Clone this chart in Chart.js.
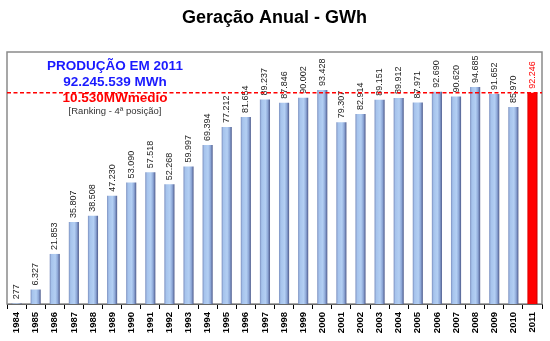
<!DOCTYPE html>
<html>
<head>
<meta charset="utf-8">
<script src="https://cdn.jsdelivr.net/npm/chart.js@4.4.1/dist/chart.umd.min.js"></script>
<style>
  html, body { margin: 0; padding: 0; background: #ffffff; }
  #wrap { width: 550px; height: 341px; position: relative; }
</style>
</head>
<body>
<div id="wrap"><canvas id="chart"></canvas></div>
<script>
// Annual generation, GWh
const years = ['1984','1985','1986','1987','1988','1989','1990','1991','1992','1993',
  '1994','1995','1996','1997','1998','1999','2000','2001','2002','2003',
  '2004','2005','2006','2007','2008','2009','2010','2011'];
const generationGWh = [277, 6327, 21853, 35807, 38508, 47230, 53090, 57518, 52268, 59997,
  69394, 77212, 81654, 89237, 87846, 90002, 93428, 79307, 82914, 89151,
  89912, 87971, 92690, 90620, 94685, 91652, 85970, 92246];
const highlightYear = '2011';
const referenceLevel = 92246;   // 2011 production, drawn as the dashed red line
const noteLines = ['PRODUÇÃO EM 2011', '92.245.539 MWh', '10.530MWmedio', '[Ranking - 4ª posição]'];

const FONT = '"Liberation Sans", Arial, sans-serif';

function fmt(v) {
  return String(v).replace(/\B(?=(\d{3})+(?!\d))/g, '.');
}

const BAR_PCT = 0.53;

function barFill(context) {
  const chart = context.chart;
  const xs = chart.scales.x;
  const isHi = years[context.dataIndex] === highlightYear;
  if (!xs || !chart.chartArea) return isHi ? '#ff0000' : '#a9c6ee';
  const cx = xs.getPixelForValue(context.dataIndex);
  const w = (xs.width / years.length) * BAR_PCT;
  const g = chart.ctx.createLinearGradient(cx - w / 2, 0, cx + w / 2, 0);
  if (isHi) {
    g.addColorStop(0, '#e00000');
    g.addColorStop(0.2, '#ff0000');
    g.addColorStop(0.8, '#ff0000');
    g.addColorStop(1, '#c80000');
  } else {
    g.addColorStop(0, '#7c90c0');
    g.addColorStop(0.18, '#a6c3ec');
    g.addColorStop(0.55, '#b3cff3');
    g.addColorStop(0.78, '#8ea8d8');
    g.addColorStop(1, '#4e5b8c');
  }
  return g;
}

// Frame around the plot, dashed reference line, value labels and the note block
const decorations = {
  id: 'decorations',
  beforeDatasetsDraw(chart) {
    const { ctx, chartArea: a } = chart;
    ctx.save();
    ctx.strokeStyle = '#8a8a8a';
    ctx.lineWidth = 1.5;
    ctx.strokeRect(a.left, a.top, a.right - a.left, a.bottom - a.top);
    ctx.restore();
  },
  afterDatasetsDraw(chart) {
    const { ctx, chartArea: a } = chart;
    const ys = chart.scales.y;
    const meta = chart.getDatasetMeta(0);

    // value labels, rotated, above each bar
    ctx.save();
    ctx.font = '9px ' + FONT;
    ctx.textBaseline = 'middle';
    ctx.textAlign = 'left';
    meta.data.forEach((bar, i) => {
      ctx.save();
      ctx.translate(bar.x, bar.y - 4);
      ctx.rotate(-Math.PI / 2);
      ctx.fillStyle = years[i] === highlightYear ? '#ff0000' : '#222222';
      ctx.fillText(fmt(generationGWh[i]), 0, 0);
      ctx.restore();
    });
    ctx.restore();

    // dashed reference line
    const yRef = ys.getPixelForValue(referenceLevel);
    ctx.save();
    ctx.strokeStyle = '#ff0000';
    ctx.lineWidth = 1.5;
    ctx.setLineDash([4, 2.5]);
    ctx.beginPath();
    ctx.moveTo(a.left, yRef);
    ctx.lineTo(a.right, yRef);
    ctx.stroke();
    ctx.restore();

    // note block
    const cx = a.left + 108;
    ctx.save();
    ctx.textAlign = 'center';
    ctx.textBaseline = 'middle';
    ctx.fillStyle = '#1a1aff';
    ctx.font = 'bold 13.5px ' + FONT;
    ctx.fillText(noteLines[0], cx, a.top + 14);
    ctx.fillText(noteLines[1], cx, a.top + 30);
    ctx.fillStyle = '#ff0000';
    ctx.fillText(noteLines[2], cx, a.top + 46);
    ctx.fillStyle = '#333333';
    ctx.font = '9.5px ' + FONT;
    ctx.fillText(noteLines[3], cx, a.top + 59.5);
    ctx.restore();
  }
};

new Chart(document.getElementById('chart'), {
  type: 'bar',
  data: {
    labels: years,
    datasets: [{
      data: generationGWh,
      backgroundColor: barFill,
      borderWidth: 0,
      barPercentage: BAR_PCT,
      categoryPercentage: 1.0
    }]
  },
  options: {
    responsive: true,
    maintainAspectRatio: false,
    animation: false,
    layout: { padding: { left: 7, right: 8, top: 0, bottom: 0 } },
    plugins: {
      legend: { display: false },
      tooltip: { enabled: false },
      title: {
        display: true,
        text: 'Geração Anual - GWh',
        color: '#000000',
        font: { family: FONT, size: 18, weight: 'bold' },
        padding: { top: 7, bottom: 23.4 }
      }
    },
    scales: {
      x: {
        offset: true,
        grid: {
          offset: true,
          drawOnChartArea: false,
          tickLength: 5,
          color: '#000000',
          tickColor: '#000000'
        },
        border: { display: true, color: '#000000', width: 1 },
        ticks: {
          color: '#000000',
          font: { family: FONT, size: 9.5, weight: 'bold' },
          minRotation: 90,
          maxRotation: 90,
          autoSkip: false,
          padding: 3
        },
        afterFit(scale) { scale.height = 37; }
      },
      y: {
        display: false,
        min: 0,
        max: 110000
      }
    }
  },
  plugins: [decorations]
});
</script>
</body>
</html>
